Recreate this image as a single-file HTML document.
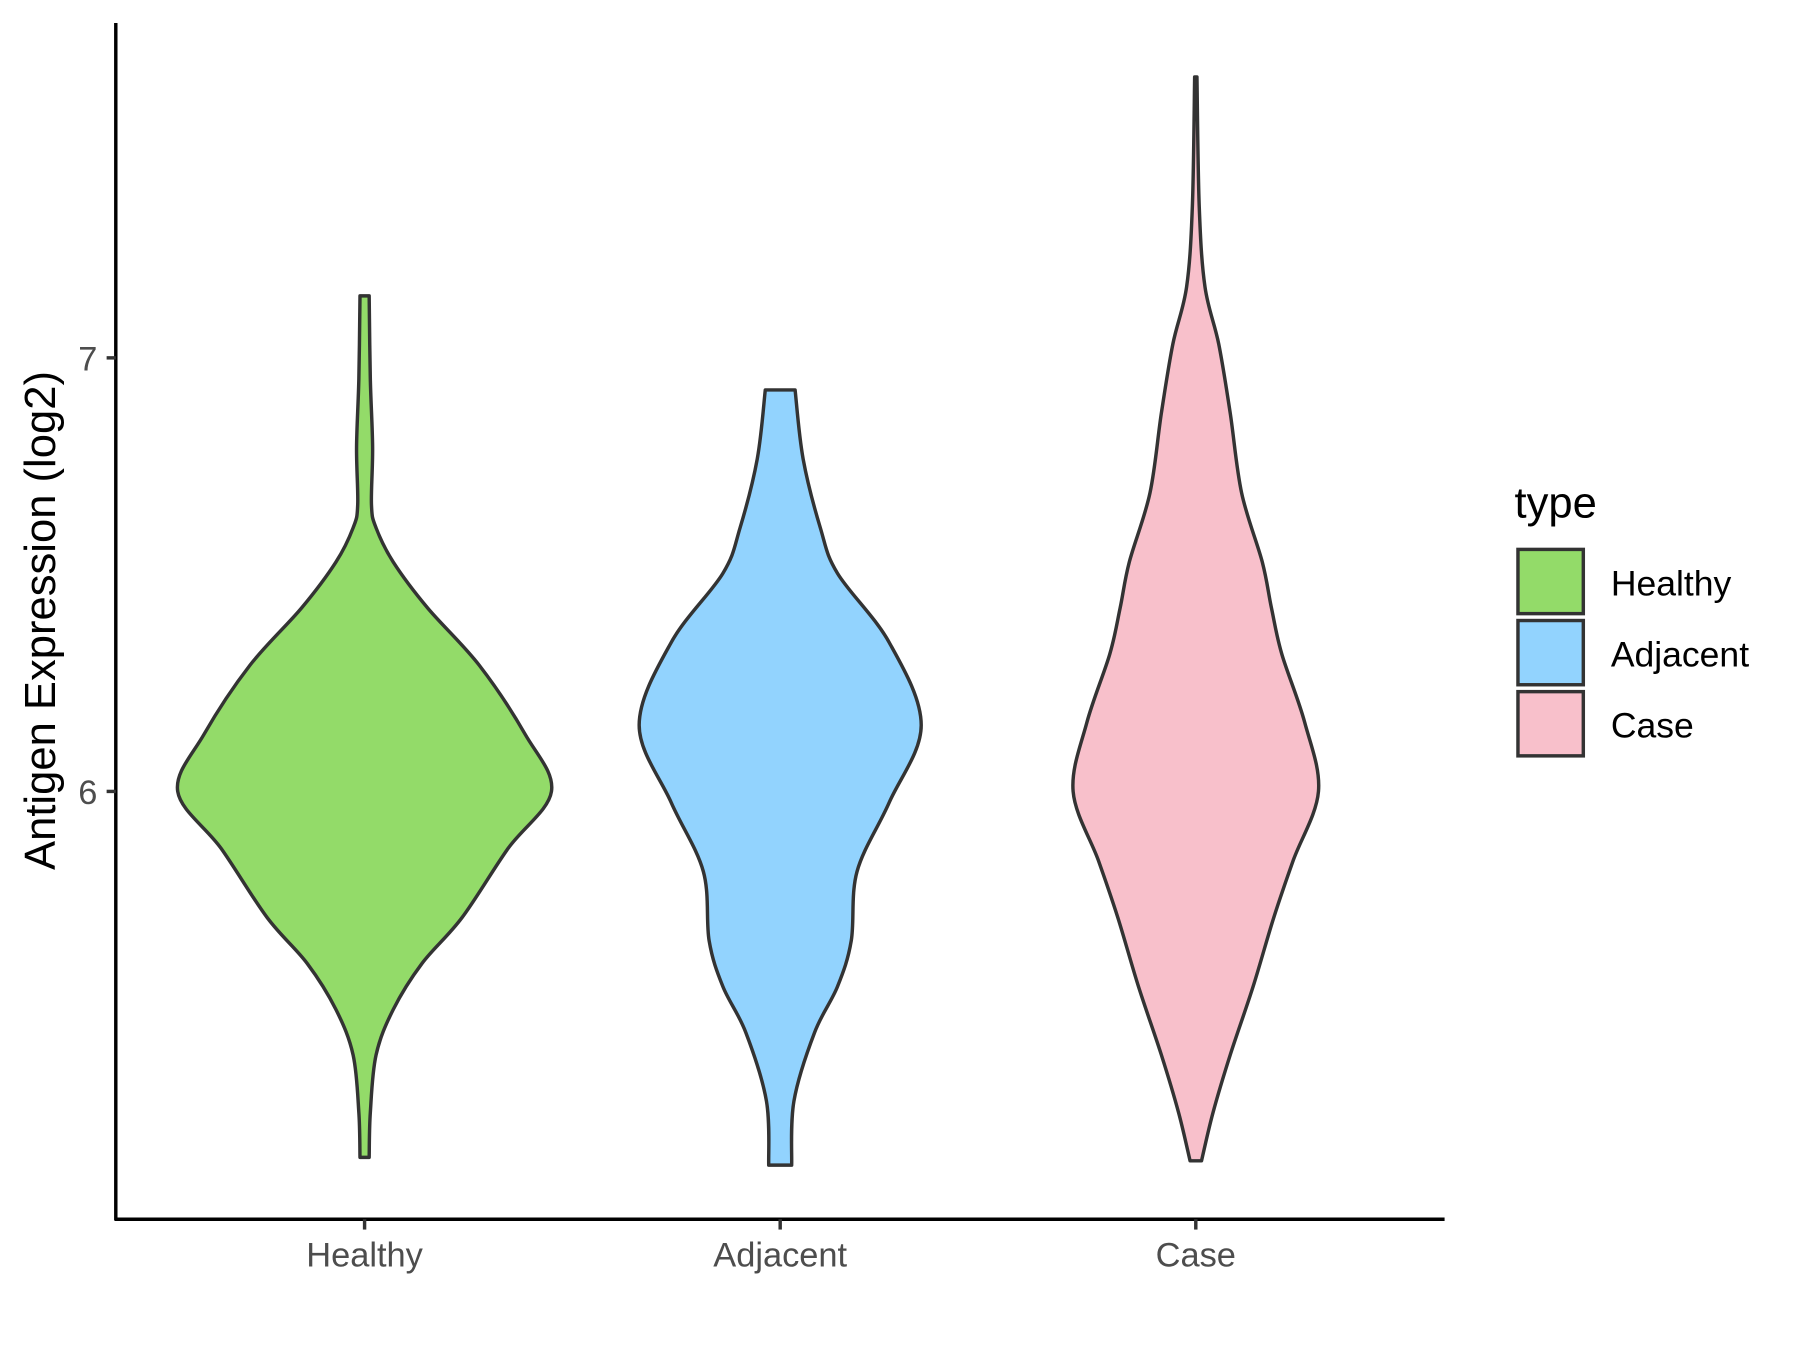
<!DOCTYPE html>
<html><head><meta charset="utf-8"><style>html,body{margin:0;padding:0;background:#fff}svg{display:block}text{font-family:"Liberation Sans",Arial,sans-serif}</style></head>
<body>
<svg id="chart" width="1800" height="1350" viewBox="0 0 1570 1177" preserveAspectRatio="none" xmlns="http://www.w3.org/2000/svg">
<g id="plot"></g>
<g>
<text x="1321" y="451" font-size="38" fill="#000">type</text>
<rect x="1324" y="479" width="57" height="56" fill="#93DB69" stroke="#333" stroke-width="3"/>
<text x="1405" y="519" font-size="31" fill="#000">Healthy</text>
<rect x="1324" y="541" width="57" height="56" fill="#92D3FE" stroke="#333" stroke-width="3"/>
<text x="1405" y="581" font-size="31" fill="#000">Adjacent</text>
<rect x="1324" y="603" width="57" height="56" fill="#F8C0CB" stroke="#333" stroke-width="3"/>
<text x="1405" y="643" font-size="31" fill="#000">Case</text>
</g>
</svg>
<script>
const categories = ["Healthy","Adjacent","Case"];
const colors = ["#93DB69","#92D3FE","#F8C0CB"];
const yTicks = [6,7];
const healthyValues = [7.143,6.952,6.794,6.661,6.608,6.529,6.423,6.291,6.132,6.0,5.868,5.709,5.603,5.497,5.392,5.259,5.156];
const healthyDensity = [4,5,7,6,10,25,55,100,140,163,125,85,50,25,10,5,4];
const adjacentValues = [6.926,6.767,6.608,6.503,6.344,6.153,5.974,5.815,5.656,5.550,5.444,5.286,5.138];
const adjacentDensity = [13,20,35,50,95,123,95,67,62,50,30,12,10];
const caseValues = [7.648,7.349,7.164,7.032,6.873,6.688,6.529,6.423,6.317,6.159,6.0,5.841,5.709,5.550,5.392,5.259,5.148];
const caseDensity = [1,3,8,20,30,40,58,66,75,95,107,85,68,50,30,15,5];

const NS="http://www.w3.org/2000/svg";
const svg=document.getElementById('chart');
const plot=document.getElementById('plot');
const y=v=>690-(v-6)*378;
const x=i=>318+i*362.5;
const wScale=1;
function mk(t,a){const e=document.createElementNS(NS,t);for(const k in a)e.setAttribute(k,a[k]);return e;}
function smooth(pts){let d='M'+pts[0][0]+','+pts[0][1];for(let i=0;i<pts.length-1;i++){const p0=pts[Math.max(0,i-1)],p1=pts[i],p2=pts[i+1],p3=pts[Math.min(pts.length-1,i+2)];const c1=[p1[0]+(p2[0]-p0[0])/6,p1[1]+(p2[1]-p0[1])/6],c2=[p2[0]-(p3[0]-p1[0])/6,p2[1]-(p3[1]-p1[1])/6];d+=' C'+c1[0]+','+c1[1]+' '+c2[0]+','+c2[1]+' '+p2[0]+','+p2[1];}return d;}
const series=[[healthyValues,healthyDensity],[adjacentValues,adjacentDensity],[caseValues,caseDensity]];
series.forEach((s,i)=>{
  const cx=x(i);
  const right=s[0].map((v,j)=>[cx+s[1][j]*wScale,y(v)]);
  const left=s[0].map((v,j)=>[cx-s[1][j]*wScale,y(v)]).reverse();
  let d=smooth(right);
  d+=' L'+left[0][0]+','+left[0][1]+smooth(left).replace(/^M[^ ]+/,'')+' Z';
  const p=mk('path',{d:d,fill:colors[i],stroke:'#333','stroke-width':3,'stroke-linejoin':'round'});
  
  
  plot.appendChild(p);
});
const ya=mk('line',{x1:101,y1:20,x2:101,y2:1064,stroke:'#000','stroke-width':3});


svg.appendChild(ya);
const xa=mk('line',{x1:100,y1:1063,x2:1260,y2:1063,stroke:'#000','stroke-width':3});


svg.appendChild(xa);
yTicks.forEach(t=>{
  const l=mk('line',{x1:93,y1:y(t),x2:101,y2:y(t),stroke:'#333','stroke-width':3});
  
  
  svg.appendChild(l);
  const tx=mk('text',{x:85,y:y(t)+11,'font-size':30,fill:'#4d4d4d','text-anchor':'end'});
  tx.textContent=t;
  
  
  svg.appendChild(tx);
});
categories.forEach((c,i)=>{
  const l=mk('line',{x1:x(i),y1:1063,x2:x(i),y2:1072,stroke:'#333','stroke-width':3});
  
  
  svg.appendChild(l);
  const tx=mk('text',{x:x(i),y:1104,'font-size':30,fill:'#4d4d4d','text-anchor':'middle'});
  tx.textContent=c;
  
  
  svg.appendChild(tx);
});
const yt=mk('text',{x:0,y:0,'font-size':38,fill:'#000','text-anchor':'middle',transform:'translate(48,541) rotate(-90)'});
yt.textContent='Antigen Expression (log2)';


svg.appendChild(yt);
</script>
</body></html>
